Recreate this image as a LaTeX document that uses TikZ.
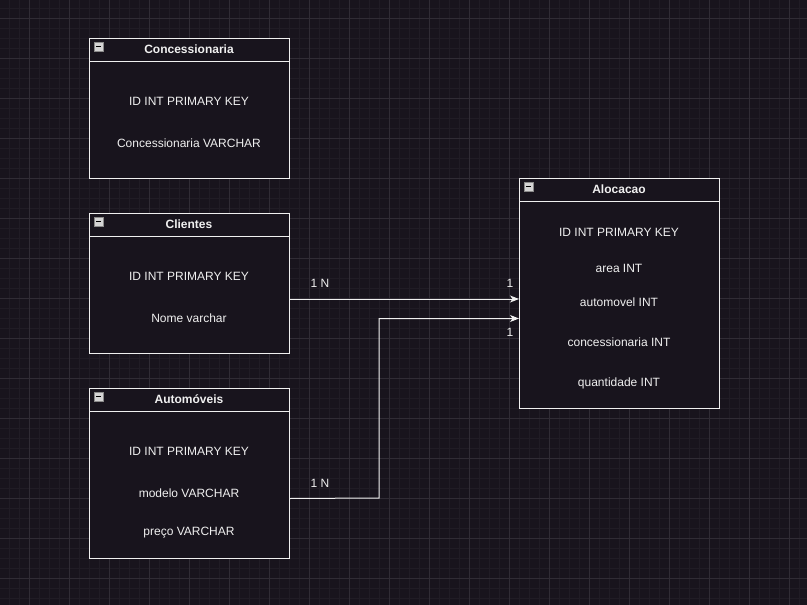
\documentclass[tikz,border=0pt]{standalone}
\usepackage{fontspec}
\setmainfont{Liberation Sans}
\usetikzlibrary{arrows.meta}
\definecolor{bg}{HTML}{18141D}
\definecolor{gridminor}{HTML}{201C25}
\definecolor{gridmajor}{HTML}{302C35}
\definecolor{ink}{HTML}{F0F0F0}
\definecolor{iconfill}{HTML}{D4D4D4}
\definecolor{iconborder}{HTML}{8A8A8A}
\tikzset{
  minorline/.style={gridminor, line width=1pt},
  majorline/.style={gridmajor, line width=1pt},
  tablebox/.style={draw=ink, line width=1pt, fill=bg, minimum width=200pt, anchor=north west, inner sep=0pt},
  headtext/.style={text=ink, font=\fontsize{12}{14}\selectfont\bfseries, inner sep=0pt},
  rowtext/.style={text=ink, font=\fontsize{12}{14}\selectfont, inner sep=0pt},
  sepline/.style={draw=ink, line width=1pt},
  conn/.style={draw=ink, line width=1pt, -{Stealth[length=9pt,width=7pt,inset=2.5pt]}},
  cardlabel/.style={text=ink, font=\fontsize{12}{14}\selectfont, inner sep=0pt},
  minusicon/.style={draw=iconborder, fill=iconfill, minimum size=9pt, inner sep=0pt, line width=0.6pt},
}
\newcommand{\minusat}[2]{%
  \node[minusicon] (#1) at (#2) {};
  \draw[black, line width=1.2pt] ([xshift=-2.5pt]#1.center) -- ([xshift=2.5pt]#1.center);
}
\begin{document}
\begin{tikzpicture}[x=1pt,y=-1pt]
\fill[bg] (0,0) rectangle (807,605);
\useasboundingbox (0,0) rectangle (807,605);
% grid
\foreach \x in {9,19,...,805} \draw[minorline] (\x,0) -- (\x,605);
\foreach \y in {8,18,...,604} \draw[minorline] (0,\y) -- (807,\y);
\foreach \x in {29,69,...,805} \draw[majorline] (\x,0) -- (\x,605);
\foreach \y in {18,58,...,604} \draw[majorline] (0,\y) -- (807,\y);

% Concessionaria
\node[tablebox, minimum height=140pt] (conc) at (89,38) {};
\draw[sepline] (89,61) -- (289,61);
\node[headtext] (concH) at (189,49.5) {Concessionaria};
\minusat{concM}{98.5,46.5}
\node[rowtext] (concR1) at (189,101) {ID INT PRIMARY KEY};
\node[rowtext] (concR2) at (189,143) {Concessionaria VARCHAR};

% Clientes
\node[tablebox, minimum height=140pt] (cli) at (89,213) {};
\draw[sepline] (89,236) -- (289,236);
\node[headtext] (cliH) at (189,224.5) {Clientes};
\minusat{cliM}{98.5,221.5}
\node[rowtext] (cliR1) at (189,276) {ID INT PRIMARY KEY};
\node[rowtext] (cliR2) at (189,318) {Nome varchar};

% Automoveis
\node[tablebox, minimum height=170pt] (auto) at (89,388) {};
\draw[sepline] (89,411) -- (289,411);
\node[headtext] (autoH) at (189,399.5) {Automóveis};
\minusat{autoM}{98.5,396.5}
\node[rowtext] (autoR1) at (189,451) {ID INT PRIMARY KEY};
\node[rowtext] (autoR2) at (189,493) {modelo VARCHAR};
\node[rowtext] (autoR3) at (189,533) {preço VARCHAR};

% Alocacao
\node[tablebox, minimum height=230pt] (aloc) at (519,178) {};
\draw[sepline] (519,201) -- (719,201);
\node[headtext] (alocH) at (619,189.5) {Alocacao};
\minusat{alocM}{528.5,186.5}
\node[rowtext] (alocR1) at (619,232) {ID INT PRIMARY KEY};
\node[rowtext] (alocR2) at (619,268) {area INT};
\node[rowtext] (alocR3) at (619,302) {automovel INT};
\node[rowtext] (alocR4) at (619,342) {concessionaria INT};
\node[rowtext] (alocR5) at (619,383) {quantidade INT};

% connectors
\draw[conn] ([yshift=-15.5pt]cli.east) -- ([yshift=-15.5pt]cli.east -| aloc.west);
\coordinate (bend) at (379,498);
\draw[conn] ([yshift=-25pt]auto.east) -- (bend) |- ([yshift=-25pt]aloc.west);

\node[cardlabel] (l1) at (320,283) {1 N};
\node[cardlabel] (l2) at (510,283) {1};
\node[cardlabel] (l3) at (320,483) {1 N};
\node[cardlabel] (l4) at (510,332) {1};
\end{tikzpicture}
\end{document}
